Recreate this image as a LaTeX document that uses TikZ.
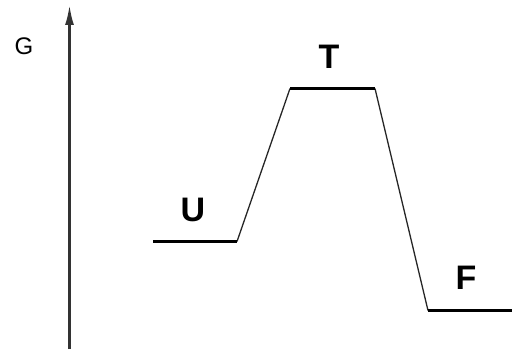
\documentclass[tikz,border=0pt]{standalone}
\usepackage{fontspec}
\setmainfont{Liberation Sans}
\usetikzlibrary{arrows.meta}
\tikzset{
  level/.style={line width=3pt, black},
  slope/.style={line width=1.3pt, black!85},
  axisline/.style={line width=2.4pt, black!80, -{Latex[length=20pt,width=9pt]}},
  statelabel/.style={inner sep=0pt, font=\fontsize{34}{36}\selectfont\bfseries},
  axislabel/.style={inner sep=0pt, font=\fontsize{24}{26}\selectfont}
}
\begin{document}
\begin{tikzpicture}[x=1pt,y=-1pt]
\useasboundingbox (0,0) rectangle (516,352);
% axis
\coordinate (axb) at (69.5,349);
\coordinate (axt) at (69.5,5);
\draw[axisline] (axb) -- (axt);
\node[axislabel] (G) at (24,46.5) {G};
% levels
\coordinate (u1) at (153,241.5);
\coordinate (u2) at (237,241.5);
\coordinate (t1) at (290,88.5);
\coordinate (t2) at (375,88.5);
\coordinate (f1) at (428,310.5);
\coordinate (f2) at (512,310.5);
\draw[slope] (u2) -- (t1);
\draw[slope] (t2) -- (f1);
\draw[level] (u1) -- (u2);
\draw[level] (t1) -- (t2);
\draw[level] (f1) -- (f2);
\node[statelabel] (U) at (193,209.5) {U};
\node[statelabel] (T) at (329,56.5) {T};
\node[statelabel] (F) at (466,277.5) {F};
\end{tikzpicture}
\end{document}
